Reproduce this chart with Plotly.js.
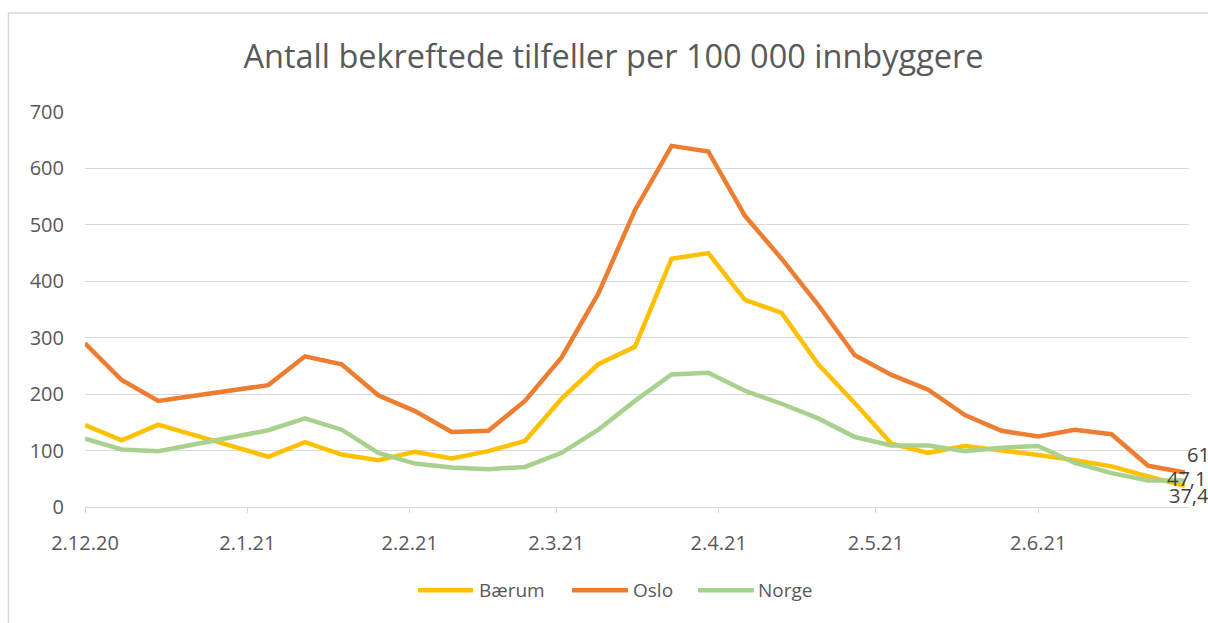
<!DOCTYPE html>
<html>
<head>
<meta charset="utf-8">
<script src="https://cdn.plot.ly/plotly-3.0.1.min.js"></script>
<style>
html,body{margin:0;padding:0;background:#fff;}
#chart{width:1208px;height:623px;}
</style>
</head>
<body>
<div id="chart"></div>
<script>
// Weekly dates (no data for 23.12 and 30.12)
const dates = ['2020-12-02','2020-12-09','2020-12-16','2021-01-06','2021-01-13','2021-01-20','2021-01-27',
  '2021-02-03','2021-02-10','2021-02-17','2021-02-24','2021-03-03','2021-03-10','2021-03-17','2021-03-24',
  '2021-03-31','2021-04-07','2021-04-14','2021-04-21','2021-04-28','2021-05-05','2021-05-12','2021-05-19',
  '2021-05-26','2021-06-02','2021-06-09','2021-06-16','2021-06-23','2021-06-30'];
const baerum = [145,118,146,89,115,93,83,98,86,99,117,192,253,284,440,450,367,344,253,184,112,96,108,99,92,83,72,54,37.4];
const oslo   = [290,225,188,216,267,253,198,170,133,135,188,265,378,526,640,630,516,440,358,269,234,208,163,135,125,137,129,73,61];
const norge  = [121,102,99,136,157,137,96,77,70,67,71,96,137,188,235,238,206,183,157,124,109,109,99,105,108,78,60,47,47.1];
const seriesNames = ['Bærum','Oslo','Norge'];
const tickDates = ['2020-12-02','2021-01-02','2021-02-02','2021-03-02','2021-04-02','2021-05-02','2021-06-02'];
const tickLabels = ['2.12.20','2.1.21','2.2.21','2.3.21','2.4.21','2.5.21','2.6.21'];
const yTicks = [0,100,200,300,400,500,600,700];

const colors = ['#FFC000','#ED7D31','#A9D18E'];
const allSeries = [baerum, oslo, norge];
const FONT = '"Open Sans", sans-serif';
const txtCol = '#595959';

const traces = allSeries.map((s,i)=>({
  type:'scatter', mode:'lines', x:dates, y:s, name:seriesNames[i],
  line:{color:colors[i], width:4.5}, hoverinfo:'x+y', showlegend:false
}));

function fmt(v){ return String(v).replace('.',','); }
const last = dates.length-1;
// label offsets (px) for end-of-line data labels
const labelOffsets = [{xs:-18,ys:-10},{xs:0,ys:18},{xs:-20,ys:2}];
const annotations = allSeries.map((s,i)=>({
  x:dates[last], y:s[last], xref:'x', yref:'y', text:fmt(s[last]), showarrow:false,
  xanchor:'left', yanchor:'middle', xshift:labelOffsets[i].xs, yshift:labelOffsets[i].ys,
  font:{family:FONT, size:20, color:'#404040'}
}));

// custom legend
const L0=85, PW=1104, Y0=506.7, PH=394.7;
const px2x = p=>(p-L0)/PW, py2y = p=>(Y0-p)/PH;
const legendItems = [{x0:418,x1:473,t:477},{x0:572,x1:628,t:631},{x0:698,x1:754,t:756}];
const shapes = [];
legendItems.forEach((it,i)=>{
  shapes.push({type:'line', xref:'paper', yref:'paper', x0:px2x(it.x0), x1:px2x(it.x1), y0:py2y(590), y1:py2y(590),
    line:{color:colors[i], width:4.5}});
  annotations.push({xref:'paper', yref:'paper', x:px2x(it.t), y:py2y(590), xanchor:'left', yanchor:'middle',
    text:seriesNames[i], showarrow:false, font:{family:FONT, size:19, color:txtCol}});
});
// chart border
shapes.push({type:'rect', xref:'paper', yref:'paper', x0:px2x(8.5), x1:px2x(1220), y0:py2y(13), y1:py2y(640),
  line:{color:'#D9D9D9', width:1.5}, fillcolor:'rgba(0,0,0,0)', layer:'below'});

const layout = {
  width:1208, height:623,
  margin:{l:85, r:19, t:112, b:116},
  paper_bgcolor:'#fff', plot_bgcolor:'#fff',
  title:{text:'Antall bekreftede tilfeller per 100 000 innbyggere', font:{family:FONT, size:32.5, color:txtCol},
    x:613.5/1208, xanchor:'center', xref:'container', y:1-57/623, yanchor:'middle', yref:'container'},
  xaxis:{type:'date', range:['2020-12-02','2021-06-30 19:00'], tickvals:tickDates, ticktext:tickLabels,
    showgrid:false, showline:true, linecolor:'#D9D9D9', linewidth:1, ticks:'outside', ticklen:5, tickwidth:1,
    tickcolor:'#D9D9D9', tickfont:{family:FONT, size:20, color:txtCol}, ticklabelstandoff:13, zeroline:false},
  yaxis:{range:[0,700], tickvals:yTicks, showgrid:true, gridcolor:'#D9D9D9', gridwidth:1, zeroline:false,
    showline:false, ticks:'', tickfont:{family:FONT, size:20, color:txtCol}, ticklabelstandoff:20},
  shapes:shapes, annotations:annotations, showlegend:false
};
Plotly.newPlot('chart', traces, layout, {displayModeBar:false, staticPlot:true});
</script>
</body>
</html>
